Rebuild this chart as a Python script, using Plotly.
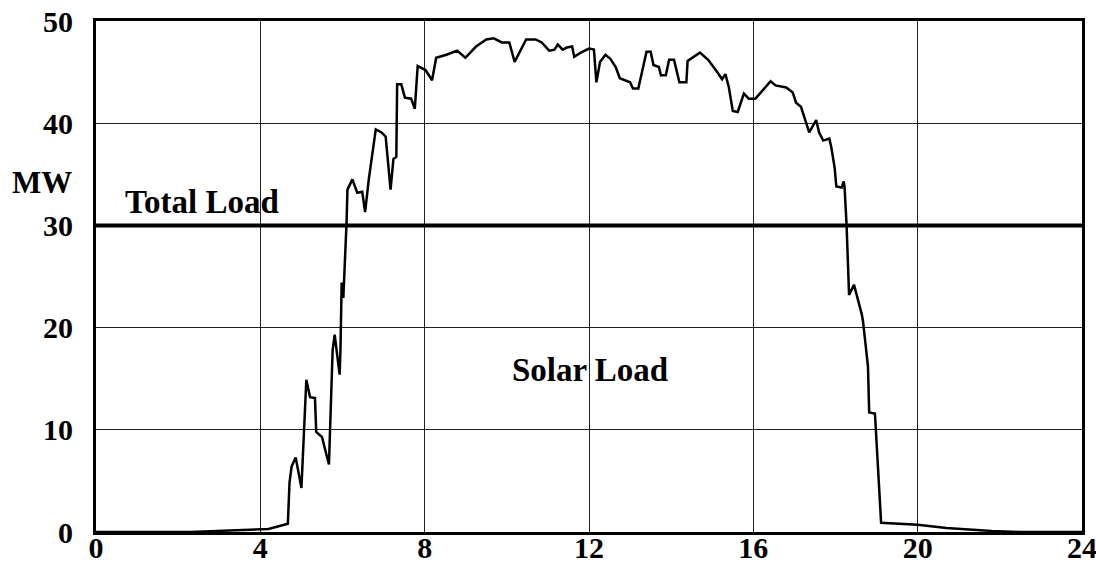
import plotly.graph_objects as go

# Hour of day and solar generation (MW) along the day
hours = [
    0, 2.3, 4.2, 4.67, 4.71, 4.76, 4.86, 5.0, 5.12, 5.21, 5.33, 5.36, 5.5, 5.57,
    5.67, 5.76, 5.81, 5.93, 5.95, 5.98, 6.02, 6.1, 6.12, 6.24, 6.36, 6.48, 6.55,
    6.64, 6.81, 6.95, 7.05, 7.17, 7.24, 7.31, 7.33, 7.43, 7.52, 7.67, 7.76, 7.83,
    8.02, 8.18, 8.28, 8.53, 8.79, 8.99, 9.25, 9.5, 9.68, 9.88, 10.06, 10.19,
    10.31, 10.47, 10.7, 10.85, 11.03, 11.16, 11.24, 11.36, 11.46, 11.59, 11.64,
    11.8, 12.0, 12.12, 12.18, 12.27, 12.4, 12.52, 12.65, 12.75, 13.0, 13.07,
    13.2, 13.4, 13.5, 13.57, 13.7, 13.75, 13.87, 13.95, 14.07, 14.2, 14.37,
    14.4, 14.7, 14.9, 15.12, 15.24, 15.32, 15.4, 15.5, 15.62, 15.77, 15.89,
    16.05, 16.22, 16.42, 16.54, 16.8, 16.96, 17.04, 17.16, 17.28, 17.36, 17.46,
    17.53, 17.6, 17.7, 17.85, 17.9, 17.98, 18.02, 18.15, 18.2, 18.22, 18.27,
    18.33, 18.45, 18.64, 18.67, 18.79, 18.82, 18.96, 19.11, 20.0, 20.7, 21.8,
    22.5, 24,
]
solar_mw = [
    0, 0, 0.3, 0.8, 4.8, 6.4, 7.3, 4.3, 14.9, 13.2, 13.1, 9.8, 9.3, 8.3,
    6.6, 17.8, 19.3, 15.4, 17.8, 24.4, 22.9, 30.4, 33.5, 34.5, 33.2, 33.3, 31.3,
    34.5, 39.4, 39.1, 38.7, 33.5, 36.5, 36.7, 43.8, 43.8, 42.5, 42.4, 41.4, 45.6,
    45.2, 44.2, 46.4, 46.7, 47.1, 46.4, 47.5, 48.2, 48.3, 47.9, 47.9, 46.0,
    46.9, 48.2, 48.2, 47.9, 47.1, 47.2, 47.7, 47.2, 47.4, 47.5, 46.5,
    46.9, 47.3, 47.2, 44.0, 46.0, 46.7, 46.3, 45.5, 44.4, 44.0, 43.4,
    43.4, 47.0, 47.0, 45.7, 45.5, 44.7, 44.7, 46.2, 46.2, 44.0, 44.0,
    46.1, 46.9, 46.2, 45.0, 44.3, 44.8, 43.6, 41.2, 41.1, 42.9, 42.4,
    42.4, 43.2, 44.1, 43.7, 43.5, 43.0, 42.0, 41.6, 40.0, 39.1, 39.8,
    40.3, 39.1, 38.3, 38.5, 37.6, 35.6, 33.8, 33.7, 34.3, 33.8, 30.0,
    23.2, 24.2, 21.3, 20.6, 16.2, 11.7, 11.6, 0.9, 0.7, 0.4, 0.1,
    0, 0,
]

# Constant total load across the day
load_hours = [0, 24]
total_load_mw = [30, 30]

x_ticks = [0, 4, 8, 12, 16, 20, 24]
y_ticks = [0, 10, 20, 30, 40, 50]

FONT = "Liberation Serif"

fig = go.Figure()
fig.add_trace(go.Scatter(
    x=hours, y=solar_mw, mode="lines",
    line=dict(color="black", width=2.5),
    hoverinfo="skip",
))
fig.add_trace(go.Scatter(
    x=load_hours, y=total_load_mw, mode="lines",
    line=dict(color="black", width=4),
    hoverinfo="skip",
))

axis_common = dict(
    showline=True, linecolor="black", linewidth=3, mirror=True,
    showgrid=True, gridcolor="#222222", gridwidth=1,
    zeroline=False, ticks="", automargin=False,
    ticklabeloverflow="allow",
    tickfont=dict(family=FONT, size=30, color="black", weight="bold"),
)

fig.update_xaxes(range=[0, 24], tickvals=x_ticks, ticklabelstandoff=-13,
                 **axis_common)
fig.update_yaxes(range=[0, 50], tickvals=y_ticks, ticklabelstandoff=14,
                 **axis_common)

label_font = dict(family=FONT, size=33, color="black", weight="bold")
fig.add_annotation(text="MW", xref="paper", yref="paper",
                   x=-0.055, y=0.683, xanchor="center", yanchor="middle",
                   showarrow=False, font=dict(label_font, size=31))
fig.add_annotation(text="Total Load", xref="paper", yref="paper",
                   x=0.1075, y=0.645, xanchor="center", yanchor="middle",
                   showarrow=False, font=label_font)
fig.add_annotation(text="Solar Load", xref="paper", yref="paper",
                   x=0.501, y=0.317, xanchor="center", yanchor="middle",
                   showarrow=False, font=label_font)

fig.update_layout(
    width=1096, height=562,
    margin=dict(l=96, r=14, t=21, b=30),
    paper_bgcolor="white", plot_bgcolor="white",
    showlegend=False,
)

fig.write_html("out.html")
